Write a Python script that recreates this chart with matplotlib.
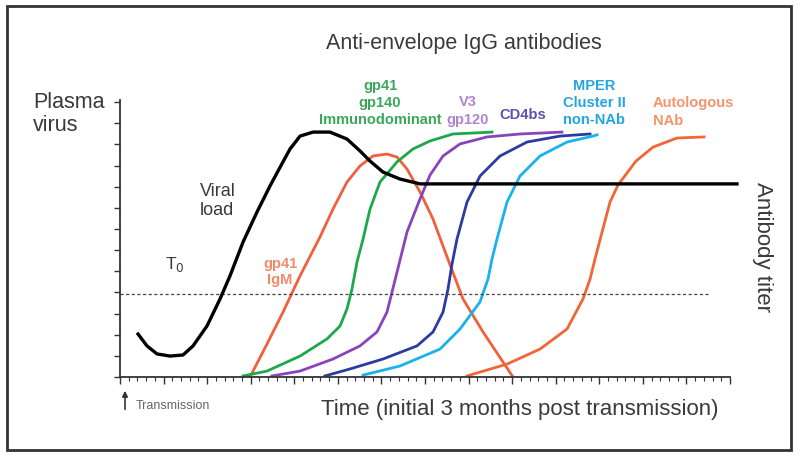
import numpy as np
import matplotlib.pyplot as plt
from matplotlib.patches import Rectangle
from matplotlib.ticker import MultipleLocator

plt.rcParams['font.family'] = ['Liberation Sans', 'DejaVu Sans']

# time axis in ticks (70 minor ticks over the first 3 months), y in titer ticks
viral_x = [2.07, 3.10, 4.25, 5.74, 7.23, 8.38, 9.98, 11.48, 12.62, 14.12, 15.72, 17.21,
           18.70, 19.51, 20.66, 22.15, 24.10, 26.05, 27.54, 28.69, 30.18, 32.13, 34.43, 70.8]
viral_y = [2.03, 1.47, 1.09, 0.99, 1.04, 1.47, 2.41, 3.69, 4.78, 6.38, 7.80, 9.03,
           10.17, 10.78, 11.39, 11.58, 11.58, 11.25, 10.69, 10.21, 9.69, 9.36, 9.13, 9.13]

igm_x = [14.92, 16.87, 18.71, 20.66, 22.95, 24.44, 26.05, 27.54, 29.03, 30.64, 31.79,
         32.94, 34.43, 35.92, 37.6, 39.36, 41.66, 43.95, 45.10]
igm_y = [0, 1.56, 3.07, 4.78, 6.62, 7.94, 9.22, 9.98, 10.45, 10.54, 10.40,
         9.83, 8.75, 7.47, 5.6, 3.69, 2.13, 0.71, 0]

gp41_x = [14.12, 16.87, 20.66, 23.75, 25.25, 26.05, 26.62, 27.20, 27.89, 28.69, 29.84,
          31.79, 33.62, 35.58, 38.21, 42.69]
gp41_y = [0.05, 0.28, 0.99, 1.80, 2.41, 3.22, 4.16, 5.44, 6.52, 7.94, 9.22,
          10.17, 10.78, 11.16, 11.49, 11.58]

v3_x = [17.44, 20.66, 24.44, 27.54, 29.49, 30.64, 31.79, 32.94, 34.43, 35.58, 37.07,
        39.02, 42.12, 45.90, 50.72]
v3_y = [0.05, 0.28, 0.85, 1.47, 2.13, 3.07, 4.96, 6.86, 8.42, 9.55, 10.45,
        11.02, 11.35, 11.49, 11.58]

cd4_x = [23.52, 26.39, 30.18, 34.08, 35.92, 37.07, 37.64, 38.10, 38.67, 39.82, 41.31,
         43.61, 46.71, 50.49, 53.94]
cd4_y = [0.05, 0.38, 0.85, 1.47, 2.13, 3.07, 4.16, 5.34, 6.52, 8.27, 9.50,
         10.45, 11.11, 11.39, 11.49]

mper_x = [27.89, 32.13, 36.72, 39.02, 41.31, 42.23, 42.69, 43.26, 44.41, 45.90, 48.20,
          51.30, 54.28, 54.74]
mper_y = [0.09, 0.52, 1.32, 2.27, 3.55, 4.63, 5.58, 6.52, 8.27, 9.50, 10.45,
          11.11, 11.39, 11.45]

nab_x = [39.82, 44.41, 48.20, 51.30, 53.13, 53.94, 54.51, 55.20, 56.23, 57.15, 59.21,
         61.17, 63.92, 67.02]
nab_y = [0.05, 0.61, 1.32, 2.27, 3.69, 4.63, 5.58, 6.67, 8.27, 9.08, 10.21,
         10.87, 11.30, 11.35]

threshold = 3.92

W, H = 800, 460


def px(x, y):
    return x / W, 1 - y / H


fig = plt.figure(figsize=(8, 4.6), dpi=100)
ax = fig.add_axes([120 / W, 82 / H, 610 / W, 13.1 * 21.15 / H])
ax.set_xlim(0, 70)
ax.set_ylim(0, 13.1)

lw = 2.0
ax.plot(viral_x, viral_y, color='black', lw=2.4, clip_on=False, zorder=3,
        solid_joinstyle='round')
ax.plot(igm_x, igm_y, color='#f0603a', lw=lw, solid_joinstyle='round')
ax.plot(gp41_x, gp41_y, color='#1ea84a', lw=lw, solid_joinstyle='round')
ax.plot(v3_x, v3_y, color='#8a44bb', lw=lw, solid_joinstyle='round')
ax.plot(cd4_x, cd4_y, color='#2b3c9e', lw=lw, solid_joinstyle='round')
ax.plot(mper_x, mper_y, color='#19b2ea', lw=lw, solid_joinstyle='round')
ax.plot(nab_x, nab_y, color='#f26534', lw=lw, solid_joinstyle='round')
ax.plot([0, 67.5], [threshold, threshold], color='#444444', lw=0.9, ls=(0, (2.5, 2)))

for s in ['top', 'right']:
    ax.spines[s].set_visible(False)
for s in ['left', 'bottom']:
    ax.spines[s].set_linewidth(1.3)
    ax.spines[s].set_color('#333333')
ax.xaxis.set_major_locator(MultipleLocator(5))
ax.xaxis.set_minor_locator(MultipleLocator(1))
ax.yaxis.set_major_locator(MultipleLocator(1))
ax.tick_params(axis='x', which='major', length=5, width=1, color='#333333', labelbottom=False)
ax.tick_params(axis='x', which='minor', length=3, width=0.8, color='#333333')
ax.tick_params(axis='y', which='major', length=4, width=1, color='#333333', labelleft=False)

gray = '#3a3a3a'
fig.text(*px(464, 43), 'Anti-envelope IgG antibodies', fontsize=15.5, color=gray,
         ha='center', va='center')
fig.text(*px(33, 114), 'Plasma\nvirus', fontsize=15.5, color=gray, ha='left', va='center',
         linespacing=1.15)
fig.text(*px(200, 201), 'Viral\nload', fontsize=13, color=gray, ha='left', va='center',
         linespacing=1.2)
fig.text(*px(165, 264), 'T$_0$', fontsize=12.5, color=gray, ha='left', va='center')
fig.text(*px(280, 272), 'gp41\nIgM', fontsize=10.5, color='#f28a6a', ha='center', va='center',
         linespacing=1.25, fontweight='bold')
fig.text(*px(380, 103), 'gp41\ngp140\nImmunodominant', fontsize=10.5, color='#3aa85a',
         ha='center', va='center', linespacing=1.3, fontweight='bold')
fig.text(*px(468, 111), 'V3\ngp120', fontsize=10.5, color='#b283cf', ha='center', va='center',
         linespacing=1.3, fontweight='bold')
fig.text(*px(523, 115), 'CD4bs', fontsize=10.5, color='#5a50b0', ha='center', va='center',
         fontweight='bold')
fig.text(*px(594, 103), 'MPER\nCluster II\nnon-NAb', fontsize=10.5, color='#22a6e2',
         ha='center', va='center', linespacing=1.3, fontweight='bold')
fig.text(*px(653, 112), 'Autologous\nNAb', fontsize=10.5, color='#f5946c', ha='left',
         va='center', linespacing=1.3, fontweight='bold')
fig.text(*px(762, 247), 'Antibody titer', fontsize=16, color=gray, rotation=-90,
         ha='center', va='center')
fig.text(*px(520, 410), 'Time (initial 3 months post transmission)', fontsize=16,
         color=gray, ha='center', va='center')
fig.text(*px(136, 406), 'Transmission', fontsize=9, color='#666666', ha='left', va='center')
ax.annotate('', xy=px(125, 389), xytext=px(125, 413), xycoords='figure fraction',
            textcoords='figure fraction',
            arrowprops=dict(arrowstyle='-|>', color='#333333', lw=1.2, mutation_scale=8))

fig.patches.append(Rectangle(px(7, 451), 784 / W, 444 / H, transform=fig.transFigure,
                             fill=False, ec='#333333', lw=2))

fig.savefig('out.png', dpi=100)
